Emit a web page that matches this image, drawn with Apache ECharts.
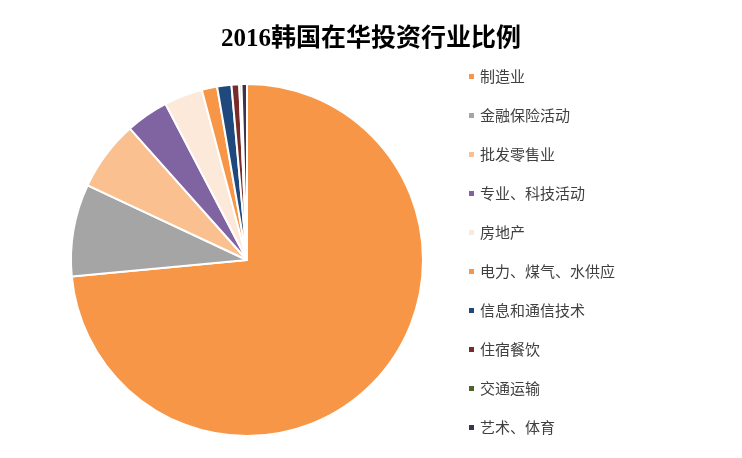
<!DOCTYPE html>
<html><head><meta charset="utf-8">
<script src="https://cdn.jsdelivr.net/npm/echarts@6/dist/echarts.min.js"></script>
<style>html,body{margin:0;padding:0;background:#fff}#c{width:742px;height:458px}</style>
</head><body><div id="c"></div>
<script>
const industries = ['制造业','金融保险活动','批发零售业','专业、科技活动','房地产','电力、煤气、水供应','信息和通信技术','住宿餐饮','交通运输','艺术、体育'];
const shares = [73.0, 8.4, 6.4, 3.9, 3.5, 1.4, 1.3, 0.7, 0.2, 0.5];
const colors = ['#f79646','#a5a5a5','#fac090','#8064a2','#fde9d9','#f79646','#1f497d','#772c2a','#4f6228','#3f3151'];

const chart = echarts.init(document.getElementById('c'));
chart.setOption({
    title: { text: '2016韩国在华投资行业比例', left: 'center', top: 22,
        textStyle: { fontFamily: 'Liberation Serif, Noto Sans CJK SC', fontSize: 25, fontWeight: 'bold', color: '#000' } },
    legend: {
        orient: 'vertical', left: 462, top: 64, itemGap: 24,
        itemWidth: 7, itemHeight: 7, icon: 'rect',
        textStyle: { fontFamily: 'Noto Sans CJK SC', fontSize: 15, color: '#404040' },
        data: industries
    },
    series: [{
        type: 'pie', center: [247, 260], radius: 176,
        startAngle: 90, clockwise: true, animation: false,
        label: { show: false }, labelLine: { show: false },
        itemStyle: { borderColor: '#fff', borderWidth: 2 },
        data: industries.map((n, i) => ({ name: n, value: shares[i], itemStyle: { color: colors[i] } }))
    }]
});
</script></body></html>
